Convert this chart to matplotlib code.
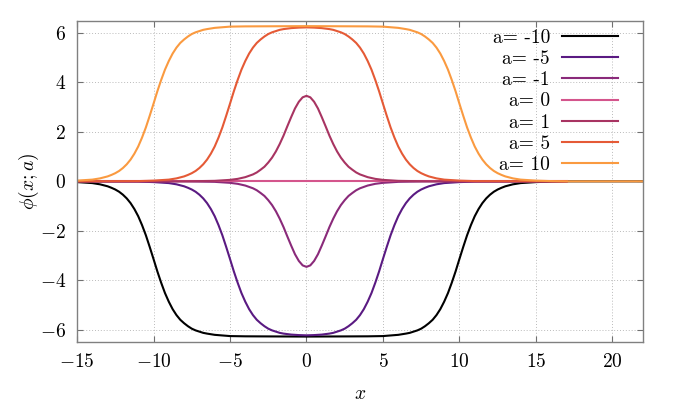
import matplotlib
matplotlib.use("Agg")
import matplotlib.pyplot as plt

plt.rcParams['font.family'] = 'cmr10'
plt.rcParams['mathtext.fontset'] = 'cm'
plt.rcParams['axes.formatter.use_mathtext'] = True

# values (a = 10, 5, 1, 0); negative a are the mirror images
x_10 = [-15, -14, -13.5, -13.25, -13, -12.75, -12.5, -12.25, -12, -11.75, -11.5, -11.25, -11,
        -10.75, -10.5, -10.25, -10, -9.75, -9.5, -9.25, -9, -8.75, -8.5, -8.25, -8, -7.75, -7.5,
        -7.25, -7, -6.75, -6.5, -6, -5,
        -4, 0, 4,
        5, 6, 6.5, 6.75, 7, 7.25, 7.5, 7.75, 8, 8.25, 8.5, 8.75, 9, 9.25, 9.5, 9.75, 10, 10.25,
        10.5, 10.75, 11, 11.25, 11.5, 11.75, 12, 12.25, 12.5, 12.75, 13, 13.25, 13.5, 14, 15,
        16, 17, 22]
phi_10 = [0.03, 0.07, 0.12, 0.16, 0.20, 0.26, 0.33, 0.42, 0.54, 0.69, 0.88, 1.12, 1.41, 1.77,
          2.18, 2.65, 3.14, 3.64, 4.10, 4.52, 4.87, 5.17, 5.41, 5.60, 5.74, 5.86, 5.96, 6.03,
          6.08, 6.13, 6.16, 6.21, 6.26,
          6.27, 6.28, 6.27,
          6.26, 6.21, 6.16, 6.13, 6.08, 6.03, 5.96, 5.86, 5.74, 5.60, 5.41, 5.17, 4.87, 4.52,
          4.10, 3.64, 3.14, 2.65, 2.18, 1.77, 1.41, 1.12, 0.88, 0.69, 0.54, 0.42, 0.33, 0.26,
          0.20, 0.16, 0.12, 0.07, 0.03,
          0.01, 0.00, 0.00]

x_5 = [-15, -11, -10, -9, -8.5, -8.25, -8, -7.75, -7.5, -7.25, -7, -6.75, -6.5, -6.25, -6, -5.75,
       -5.5, -5.25, -5, -4.75, -4.5, -4.25, -4, -3.75, -3.5, -3.25, -3, -2.75, -2.5, -2.25, -2,
       -1.75, -1.5, -1, -0.5, 0, 0.5, 1, 1.5, 1.75, 2, 2.25, 2.5, 2.75, 3, 3.25, 3.5, 3.75, 4,
       4.25, 4.5, 4.75, 5, 5.25, 5.5, 5.75, 6, 6.25, 6.5, 6.75, 7, 7.25, 7.5, 7.75, 8, 8.25, 8.5,
       9, 10, 11, 17]
phi_5 = [0.00, 0.01, 0.03, 0.07, 0.12, 0.16, 0.20, 0.26, 0.33, 0.42, 0.54, 0.69, 0.88, 1.12,
         1.41, 1.77, 2.18, 2.65, 3.14, 3.64, 4.10, 4.52, 4.87, 5.17, 5.41, 5.60, 5.74, 5.86,
         5.96, 6.03, 6.08, 6.13, 6.16, 6.20, 6.22, 6.23, 6.22, 6.20, 6.16, 6.13, 6.08, 6.03,
         5.96, 5.86, 5.74, 5.60, 5.41, 5.17, 4.87, 4.52, 4.10, 3.64, 3.14, 2.65, 2.18, 1.77,
         1.41, 1.12, 0.88, 0.69, 0.54, 0.42, 0.33, 0.26, 0.20, 0.16, 0.12, 0.07, 0.03, 0.01,
         0.00]

x_1 = [-15, -8, -7, -6, -5, -4.5, -4, -3.5, -3.25, -3, -2.75, -2.5, -2.25, -2, -1.75, -1.5,
       -1.25, -1, -0.75, -0.5, -0.25, 0, 0.25, 0.5, 0.75, 1, 1.25, 1.5, 1.75, 2, 2.25, 2.5,
       2.75, 3, 3.25, 3.5, 4, 4.5, 5, 6, 7, 8, 17]
phi_1 = [0.00, 0.00, 0.01, 0.02, 0.06, 0.10, 0.17, 0.28, 0.36, 0.47, 0.59, 0.76, 0.96, 1.21,
         1.51, 1.85, 2.23, 2.60, 2.95, 3.22, 3.40, 3.46, 3.40, 3.22, 2.95, 2.60, 2.23, 1.85,
         1.51, 1.21, 0.96, 0.76, 0.59, 0.47, 0.36, 0.28, 0.17, 0.10, 0.06, 0.02, 0.01, 0.00,
         0.00]

x_0 = [-15, 17]
phi_0 = [0.0, 0.0]

labels = ['a= -10', 'a= -5', 'a= -1', 'a= 0', 'a= 1', 'a= 5', 'a= 10']
colors = ['#000000', '#5a1a82', '#8a2a7a', '#d4558c', '#a83462', '#e55a36', '#fa9a40']

curves = [
    (x_10, [-v for v in phi_10]),
    (x_5, [-v for v in phi_5]),
    (x_1, [-v for v in phi_1]),
    (x_0, phi_0),
    (x_1, phi_1),
    (x_5, phi_5),
    (x_10, phi_10),
]

fig = plt.figure(figsize=(6.81, 4.09), dpi=100)
ax = fig.add_axes([0.1131, 0.1638, 0.8311, 0.7856])

for (xs, ys), c, lab in zip(curves, colors, labels):
    ax.plot(xs, ys, color=c, lw=1.5, label=lab, solid_joinstyle='round')

ax.set_xlim(-15, 22)
ax.set_ylim(-6.5, 6.5)
xt = [-15, -10, -5, 0, 5, 10, 15, 20]
yt = [-6, -4, -2, 0, 2, 4, 6]
ax.set_xticks(xt)
ax.set_xticklabels(['$%d$' % v for v in xt])
ax.set_yticks(yt)
ax.set_yticklabels(['$%d$' % v for v in yt])
ax.tick_params(direction='in', top=True, right=True, length=4, width=0.8,
               color='#707070', labelsize=14, pad=8)
for s in ax.spines.values():
    s.set_color('#808080')
    s.set_linewidth(1.0)
ax.grid(True, color='#bbbbbb', linestyle=(0, (1, 2)), linewidth=0.7)

ax.set_xlabel('$x$', fontsize=14, labelpad=10)
ax.set_ylabel(r'$\phi(x;a)$', fontsize=14, labelpad=-1)

ax.legend(loc='upper right', bbox_to_anchor=(0.956, 0.975), frameon=False,
          markerfirst=False, alignment='right', fontsize=14, handlelength=2.9,
          handletextpad=0.6, labelspacing=0.17, borderpad=0, borderaxespad=0)

fig.savefig('out.png', dpi=100)
